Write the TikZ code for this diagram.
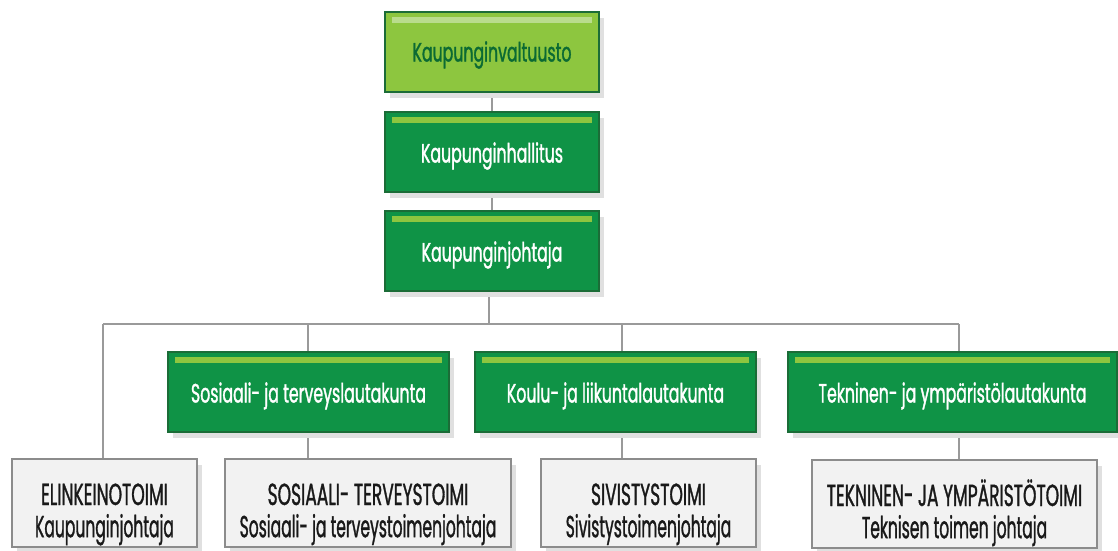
\documentclass[tikz,border=0pt]{standalone}
\usepackage{fontspec}
\usetikzlibrary{shadows,backgrounds}
\newfontfamily\boardfont[FakeStretch=0.595,FakeBold=1.2]{Poppins}
\newfontfamily\officefont[FakeStretch=0.51,FakeBold=1.0]{Poppins}
\newfontfamily\officecaps[FakeStretch=0.56,FakeBold=1.0]{Poppins}
\definecolor{lightgreen}{HTML}{8DC63F}
\definecolor{lightbar}{HTML}{B9DC8D}
\definecolor{darkgreen}{HTML}{0F9346}
\definecolor{edgegreen}{HTML}{1B6C37}
\definecolor{textgreen}{HTML}{0B6A33}
\definecolor{officefill}{HTML}{F2F2F2}
\definecolor{officeedge}{HTML}{8C8C8C}
\definecolor{wire}{HTML}{9A9A9A}
\definecolor{shade}{HTML}{E0E0E0}
\newcommand{\officetext}[2]{\begin{tabular}[t]{@{}c@{}}\officecaps #1\\\officefont #2\end{tabular}}
\begin{document}
\begin{tikzpicture}[x=1pt,y=-1pt,
  base/.style={line width=1.6pt, inner sep=0pt, align=center,
    drop shadow={shadow xshift=5pt, shadow yshift=-6pt, fill=shade, opacity=1}},
  topbar/.style={path picture={\fill[#1]
      ([xshift=7pt,yshift=-5pt]path picture bounding box.north west) rectangle
      ([xshift=-7pt,yshift=-11pt]path picture bounding box.north east);}},
  council/.style={base, draw=edgegreen, fill=lightgreen, topbar=lightbar,
    text=textgreen, font=\boardfont\fontsize{26.5}{30}\selectfont,
    minimum width=214pt, minimum height=80pt, text height=19pt, text depth=0pt},
  board/.style={base, draw=edgegreen, fill=darkgreen, topbar=lightgreen,
    text=white, font=\boardfont\fontsize{26.5}{30}\selectfont,
    minimum height=80pt, text height=21pt, text depth=0pt},
  office/.style={base, draw=officeedge, fill=officefill, text=black!90,
    font=\fontsize{30.5}{30}\selectfont, minimum height=88pt,
    text height=4pt, text depth=0pt},
  wireline/.style={draw=wire, line width=1.6pt}
]
\useasboundingbox (0,0) rectangle (1118,550);

% branch points on the horizontal bus
\coordinate (busL) at (103,324);
\coordinate (busR) at (959,324);
\coordinate (brS) at (308,324);
\coordinate (brK) at (622,324);
\coordinate (brT) at (959,324);
\coordinate (trunk) at (489,324);

% hierarchy boxes
\node[council] (valt) at (492,52) {Kaupunginvaltuusto};
\node[board, minimum width=214pt] (hall) at (492,152) {Kaupunginhallitus};
\node[board, minimum width=214pt] (joht) at (492,251) {Kaupunginjohtaja};
\node[board, minimum width=281pt] (sos) at (308.5,392) {Sosiaali- ja terveyslautakunta};
\node[board, minimum width=281pt] (koulu) at (615.5,392) {Koulu- ja liikuntalautakunta};
\node[board, minimum width=329pt] (tek) at (952.5,392) {Tekninen- ja ympäristölautakunta};
\node[office, minimum width=185pt] (elin) at (104.5,503)
  {\officetext{ELINKEINOTOIMI}{Kaupunginjohtaja}};
\node[office, minimum width=286pt] (sost) at (368,503)
  {\officetext{SOSIAALI- TERVEYSTOIMI}{Sosiaali- ja terveystoimenjohtaja}};
\node[office, minimum width=215pt] (sivis) at (648.5,503)
  {\officetext{SIVISTYSTOIMI}{Sivistystoimenjohtaja}};
\node[office, minimum width=285pt] (tekymp) at (954.5,504)
  {\officetext{TEKNINEN- JA YMPÄRISTÖTOIMI}{Teknisen toimen johtaja}};

% connectors behind the boxes
\begin{pgfonlayer}{background}
\draw[wireline] (valt.south) -- (hall.north);
\draw[wireline] (hall.south) -- (joht.north);
\draw[wireline] (trunk |- joht.south) -- (trunk);
\draw[wireline] (busL) -- (busR);
\draw[wireline] (busL) -- (busL |- elin.north);
\draw[wireline] (brS) -- (brS |- sost.north);
\draw[wireline] (brK) -- (brK |- sivis.north);
\draw[wireline] (brT) -- (brT |- tekymp.north);
\end{pgfonlayer}
\end{tikzpicture}
\end{document}
